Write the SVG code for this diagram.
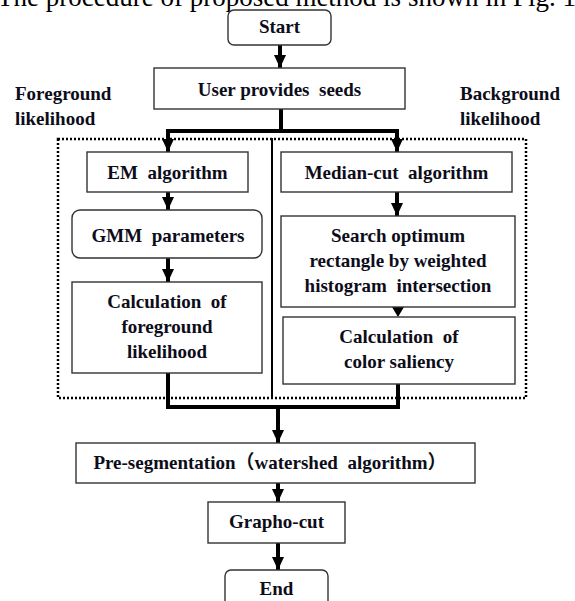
<svg xmlns="http://www.w3.org/2000/svg" width="575" height="601" viewBox="0 0 575 601" xml:space="preserve">
<style>
  .bg { fill: #ffffff; }
  .box { fill: #ffffff; stroke: #333333; stroke-width: 1.4; }
  .t { font-family: "Liberation Serif", "Noto Sans CJK SC", serif; font-weight: bold; font-size: 19px; fill: #0d0d1a; text-anchor: middle; white-space: pre; }
  .side { font-family: "Liberation Serif", serif; font-weight: bold; font-size: 19px; fill: #0d0d1a; white-space: pre; }
  .hdr { font-family: "Liberation Serif", serif; font-size: 27px; fill: #000; white-space: pre; }
  .wire { fill: none; stroke: #000; stroke-width: 4; stroke-linejoin: miter; }
  .arr { fill: none; stroke: #000; stroke-width: 4; marker-end: url(#ah); }
  .div { stroke: #000; stroke-width: 2; }
  .dot { fill: none; stroke: #000; stroke-width: 2.5; stroke-dasharray: 2 2; }
</style>
<defs>
  <marker id="ah" markerUnits="userSpaceOnUse" markerWidth="14" markerHeight="14" viewBox="0 0 14 14" refX="13" refY="7" orient="auto">
    <path d="M0,1 L13,7 L0,13 Z" fill="#000"/>
  </marker>
</defs>
<rect class="bg" x="0" y="0" width="575" height="601"/>
<text class="hdr" x="-3" y="6">The procedure of proposed method is shown in Fig. 1.</text>

<g id="side-labels">
  <text class="side" x="15" y="100">Foreground</text>
  <text class="side" x="15" y="125">likelihood</text>
  <text class="side" x="460" y="100">Background</text>
  <text class="side" x="460" y="125">likelihood</text>
</g>

<g id="group-frame">
  <rect class="dot" x="58" y="139" width="468" height="259"/>
  <line class="div" x1="272" y1="138" x2="272" y2="398"/>
</g>

<g id="connectors">
  <line class="arr" x1="280" y1="45" x2="280" y2="68"/>
  <polyline class="wire" points="281,109 281,131"/>
  <polyline class="arr" points="168,131 168,152"/>
  <polyline class="wire" points="166,131 399,131"/>
  <polyline class="arr" points="397,131 397,152"/>
  <line class="arr" x1="168" y1="192" x2="168" y2="210"/>
  <line class="arr" x1="168" y1="258" x2="168" y2="282"/>
  <line class="arr" x1="397" y1="192" x2="397" y2="216"/>
  <path d="M392,307 L404,307 L398,317 Z" fill="#000"/>
  <polyline class="wire" points="168,373 168,407 398,407 398,384"/>
  <line class="arr" x1="278" y1="407" x2="278" y2="443"/>
  <line class="arr" x1="278" y1="483" x2="278" y2="502"/>
  <line class="arr" x1="278" y1="543" x2="278" y2="570"/>
</g>

<g id="start">
  <rect class="box" x="228" y="10" width="103" height="35" rx="6"/>
  <text class="t" x="279.5" y="33">Start</text>
</g>
<g id="user-seeds">
  <rect class="box" x="154" y="68" width="251" height="41"/>
  <text class="t" x="279.5" y="96">User provides  seeds</text>
</g>
<g id="em">
  <rect class="box" x="87" y="152" width="161" height="40"/>
  <text class="t" x="167.5" y="179">EM  algorithm</text>
</g>
<g id="gmm">
  <rect class="box" x="72" y="210" width="190" height="48" rx="8"/>
  <text class="t" x="168" y="242">GMM  parameters</text>
</g>
<g id="calc-fg">
  <rect class="box" x="72" y="282" width="190" height="91"/>
  <text class="t" x="167" y="308">Calculation  of</text>
  <text class="t" x="167" y="333">foreground</text>
  <text class="t" x="167" y="358">likelihood</text>
</g>
<g id="median-cut">
  <rect class="box" x="281" y="152" width="231" height="40"/>
  <text class="t" x="396.5" y="179">Median-cut  algorithm</text>
</g>
<g id="search">
  <rect class="box" x="281" y="216" width="234" height="91"/>
  <text class="t" x="398" y="242">Search optimum</text>
  <text class="t" x="398" y="267">rectangle by weighted</text>
  <text class="t" x="398" y="292">histogram  intersection</text>
</g>
<g id="calc-color">
  <rect class="box" x="283" y="317" width="232" height="67"/>
  <text class="t" x="399" y="343">Calculation  of</text>
  <text class="t" x="399" y="368">color saliency</text>
</g>
<g id="pre-seg">
  <rect class="box" x="76" y="443" width="399" height="40"/>
  <text class="t" x="270" y="469">Pre-segmentation（watershed  algorithm）</text>
</g>
<g id="grapho-cut">
  <rect class="box" x="208" y="502" width="137" height="41"/>
  <text class="t" x="276.5" y="528">Grapho-cut</text>
</g>
<g id="end">
  <rect class="box" x="225" y="570" width="103" height="42" rx="6"/>
  <text class="t" x="276.5" y="595">End</text>
</g>
</svg>
